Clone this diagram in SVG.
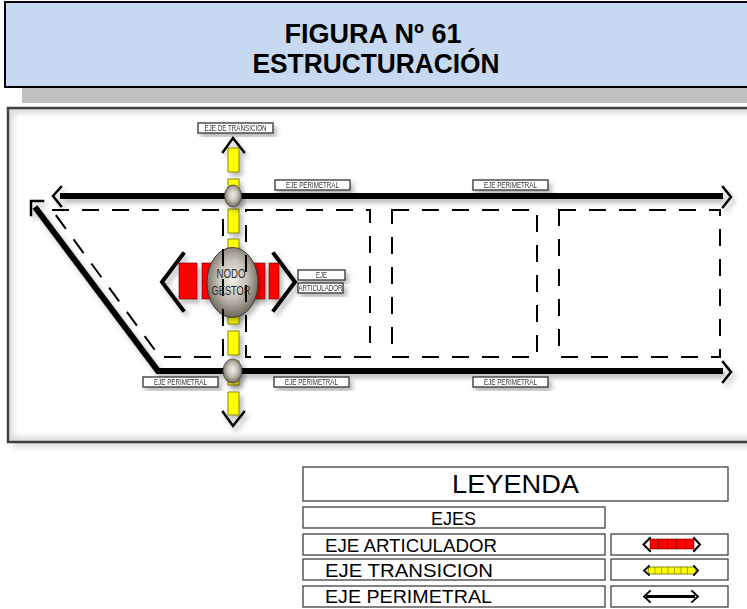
<svg xmlns="http://www.w3.org/2000/svg" width="747" height="609" viewBox="0 0 747 609">
<defs>
<filter id="sh" x="-20%" y="-20%" width="150%" height="160%"><feDropShadow dx="3" dy="4" stdDeviation="2.5" flood-color="#000" flood-opacity="0.28"/></filter>
<filter id="blur"><feGaussianBlur stdDeviation="3"/></filter>
<radialGradient id="ng" cx="50%" cy="45%" r="60%"><stop offset="0" stop-color="#f2efe9"/><stop offset="0.45" stop-color="#c8c2b8"/><stop offset="1" stop-color="#5e564b"/></radialGradient>
<clipPath id="pc"><rect x="9" y="109" width="740" height="332"/></clipPath>
</defs>
<style>
.lbl{fill:#fff;stroke:#404040;stroke-width:1.4}
.lt{font-family:"Liberation Sans",Arial,sans-serif;font-size:8.5px;fill:#333;text-anchor:middle}
.dash{fill:none;stroke:#000;stroke-width:2;stroke-dasharray:17 13}
.chev{fill:none;stroke:#000;stroke-linecap:square}
.yel{fill:#ffff00;stroke:#6b6b00;stroke-width:0.8}
.red{fill:#ff0000;stroke:#600;stroke-width:0.6}
.lg{fill:#fff;stroke:#404040;stroke-width:1.3}
.lgt{font-family:"Liberation Sans",Arial,sans-serif;font-size:18px;fill:#000}
</style>
<rect width="747" height="609" fill="#fff"/>
<g id="title">
<rect x="5" y="2" width="760" height="85" fill="#c6d9f1" stroke="#000" stroke-width="2"/>
<rect x="22" y="88" width="740" height="15" fill="#bfbfbf"/>
<text x="373" y="43" font-family="'Liberation Sans',Arial,sans-serif" font-size="27" font-weight="bold" text-anchor="middle" textLength="177" lengthAdjust="spacingAndGlyphs">FIGURA Nº 61</text>
<text x="376" y="73" font-family="'Liberation Sans',Arial,sans-serif" font-size="27" font-weight="bold" text-anchor="middle" textLength="247" lengthAdjust="spacingAndGlyphs">ESTRUCTURACIÓN</text>
</g>
<g id="panel">
<rect x="9" y="110" width="760" height="334" fill="#000" opacity="0.12" filter="url(#blur)" transform="translate(3,4)"/>
<rect x="8" y="108" width="760" height="334" fill="#fff"/>
<g clip-path="url(#pc)"><rect x="9" y="109" width="760" height="332" fill="none" stroke="#d8d8d8" stroke-width="8" filter="url(#blur)"/></g>
<rect x="8" y="108" width="760" height="334" fill="none" stroke="#404040" stroke-width="2.5"/>
</g>
<g id="connectors" filter="url(#sh)">
<g id="eje-perimetral">
<line x1="60" y1="196" x2="723" y2="196" stroke="#000" stroke-width="6"/>
<polyline class="chev" stroke-width="2.5" points="61,187 53,196 61,206"/>
<polyline class="chev" stroke-width="2.5" points="723,187 731,197 723,207"/>
<polyline points="35,207 158,371 723,371" fill="none" stroke="#000" stroke-width="6"/>
<polyline class="chev" stroke-width="2.5" points="43,201 31,201 31,215"/>
<polyline class="chev" stroke-width="2.5" points="723,362 731,372 723,382"/>
</g>
<g id="eje-articulador">
<rect class="red" x="179" y="263" width="18" height="36"/>
<rect class="red" x="202" y="263" width="18" height="36"/>
<rect class="red" x="225" y="263" width="18" height="36"/>
<rect class="red" x="247" y="263" width="18" height="36"/>
<rect class="red" x="269" y="263" width="10" height="36"/>
<polyline class="chev" stroke-width="4" points="183,254 162,282 183,310"/>
<polyline class="chev" stroke-width="4" points="274,254 295,282 274,310"/>
</g>
<g id="eje-transicion">
<rect class="yel" x="228" y="148" width="11" height="24"/>
<rect class="yel" x="228" y="179" width="11" height="24"/>
<rect class="yel" x="228" y="209" width="11" height="24"/>
<rect class="yel" x="228" y="239" width="11" height="24"/>
<rect class="yel" x="228" y="300" width="11" height="24"/>
<rect class="yel" x="228" y="331" width="11" height="24"/>
<rect class="yel" x="228" y="361" width="11" height="24"/>
<rect class="yel" x="228" y="392" width="11" height="23"/>
<polyline class="chev" stroke-width="2.5" points="223,152 233,138 244,152"/>
<polyline class="chev" stroke-width="2.5" points="223,412 233,426 244,412"/>
</g>
</g>
<g id="node-top" filter="url(#sh)"><ellipse cx="233" cy="196" rx="8.5" ry="11" fill="url(#ng)" stroke="#4a443c" stroke-width="0.8"/></g>
<g id="node-bottom" filter="url(#sh)"><ellipse cx="232.5" cy="371" rx="9.5" ry="12" fill="url(#ng)" stroke="#4a443c" stroke-width="0.8"/></g>
<g id="nodo-gestor" filter="url(#sh)">
<ellipse cx="232.5" cy="282.5" rx="25.5" ry="35" fill="url(#ng)" stroke="#3d372f" stroke-width="1"/>
</g>
<g id="blocks">
<polygon class="dash" points="52,210 223,210 223,357 160,357"/>
<rect class="dash" x="246" y="210" width="124" height="147"/>
<rect class="dash" x="392" y="210" width="145" height="147"/>
<rect class="dash" x="559" y="210" width="161" height="147"/>
</g>
<g id="nodo-gestor-text">
<text x="231" y="278" font-family="'Liberation Sans',Arial,sans-serif" font-size="12.5" fill="#2a2a2a" text-anchor="middle" textLength="29" lengthAdjust="spacingAndGlyphs">NODO</text>
<text x="231" y="295" font-family="'Liberation Sans',Arial,sans-serif" font-size="12.5" fill="#2a2a2a" text-anchor="middle" textLength="39" lengthAdjust="spacingAndGlyphs">GESTOR</text>
</g>
<g id="labels">
<g id="lbl-transicion" filter="url(#sh)"><rect class="lbl" x="198" y="123" width="75" height="10"/><text class="lt" x="235.5" y="131" textLength="62" lengthAdjust="spacingAndGlyphs">EJE DE TRANSICION</text></g>
<g id="lbl-per-1" filter="url(#sh)"><rect class="lbl" x="275" y="180" width="75" height="10"/><text class="lt" x="312.5" y="188" textLength="53" lengthAdjust="spacingAndGlyphs">EJE PERIMETRAL</text></g>
<g id="lbl-per-2" filter="url(#sh)"><rect class="lbl" x="473" y="180" width="75" height="10"/><text class="lt" x="510.5" y="188" textLength="53" lengthAdjust="spacingAndGlyphs">EJE PERIMETRAL</text></g>
<g id="lbl-per-3" filter="url(#sh)"><rect class="lbl" x="143" y="377" width="75" height="10"/><text class="lt" x="180.5" y="385" textLength="53" lengthAdjust="spacingAndGlyphs">EJE PERIMETRAL</text></g>
<g id="lbl-per-4" filter="url(#sh)"><rect class="lbl" x="274" y="377" width="75" height="10"/><text class="lt" x="311.5" y="385" textLength="53" lengthAdjust="spacingAndGlyphs">EJE PERIMETRAL</text></g>
<g id="lbl-per-5" filter="url(#sh)"><rect class="lbl" x="473" y="377" width="75" height="10"/><text class="lt" x="510.5" y="385" textLength="53" lengthAdjust="spacingAndGlyphs">EJE PERIMETRAL</text></g>
<g id="lbl-art-1" filter="url(#sh)"><rect class="lbl" x="298" y="270" width="47" height="10"/><text class="lt" x="321.5" y="278" textLength="11" lengthAdjust="spacingAndGlyphs">EJE</text></g>
<g id="lbl-art-2" filter="url(#sh)"><rect class="lbl" x="298" y="283" width="45" height="10"/><text class="lt" x="320.5" y="291" textLength="44" lengthAdjust="spacingAndGlyphs">ARTICULADOR</text></g>
</g>
<g id="legend">
<g id="leyenda"><rect class="lg" x="303" y="467" width="425" height="34"/><text x="515.5" y="493" font-family="'Liberation Sans',Arial,sans-serif" font-size="26" text-anchor="middle" textLength="127" lengthAdjust="spacingAndGlyphs">LEYENDA</text></g>
<g id="ejes"><rect class="lg" x="303" y="507" width="302" height="21"/><text class="lgt" x="453.5" y="525" text-anchor="middle">EJES</text></g>
<g id="lg-art"><rect class="lg" x="303" y="534" width="302" height="21"/><text class="lgt" x="325" y="552" textLength="172" lengthAdjust="spacingAndGlyphs">EJE ARTICULADOR</text>
<rect class="lg" x="611" y="534" width="117" height="21"/>
<rect class="red" x="650" y="539" width="8.8" height="10"/><rect class="red" x="658.8" y="539" width="8.8" height="10"/><rect class="red" x="667.6" y="539" width="8.8" height="10"/><rect class="red" x="676.4" y="539" width="8.8" height="10"/><rect class="red" x="685.2" y="539" width="8.8" height="10"/>
<polyline class="chev" stroke-width="2" points="650,538 643.5,544.5 650,551"/><polyline class="chev" stroke-width="2" points="694,538 700,544.5 694,551"/></g>
<g id="lg-tra"><rect class="lg" x="303" y="559" width="302" height="21"/><text class="lgt" x="325" y="577" textLength="168" lengthAdjust="spacingAndGlyphs">EJE TRANSICION</text>
<rect class="lg" x="611" y="559" width="117" height="21"/>
<rect class="yel" x="648" y="567" width="48" height="7" rx="3"/>
<path d="M655,567v7M661.5,567v7M668,567v7M674.5,567v7M681,567v7M687.5,567v7" stroke="#6b6b00" stroke-width="0.6"/>
<polyline class="chev" stroke-width="1.8" points="649,566 644,570.5 649,575"/><polyline class="chev" stroke-width="1.8" points="694,566 698,570.5 694,575"/></g>
<g id="lg-per"><rect class="lg" x="303" y="586" width="302" height="21"/><text class="lgt" x="325" y="603" textLength="167" lengthAdjust="spacingAndGlyphs">EJE PERIMETRAL</text>
<rect class="lg" x="611" y="586" width="117" height="21"/>
<line x1="646" y1="596.5" x2="695" y2="596.5" stroke="#000" stroke-width="3"/>
<polyline class="chev" stroke-width="1.8" points="650,591 644,596.5 650,602"/><polyline class="chev" stroke-width="1.8" points="692,591 698,596.5 692,602"/></g>
</g>
</svg>
